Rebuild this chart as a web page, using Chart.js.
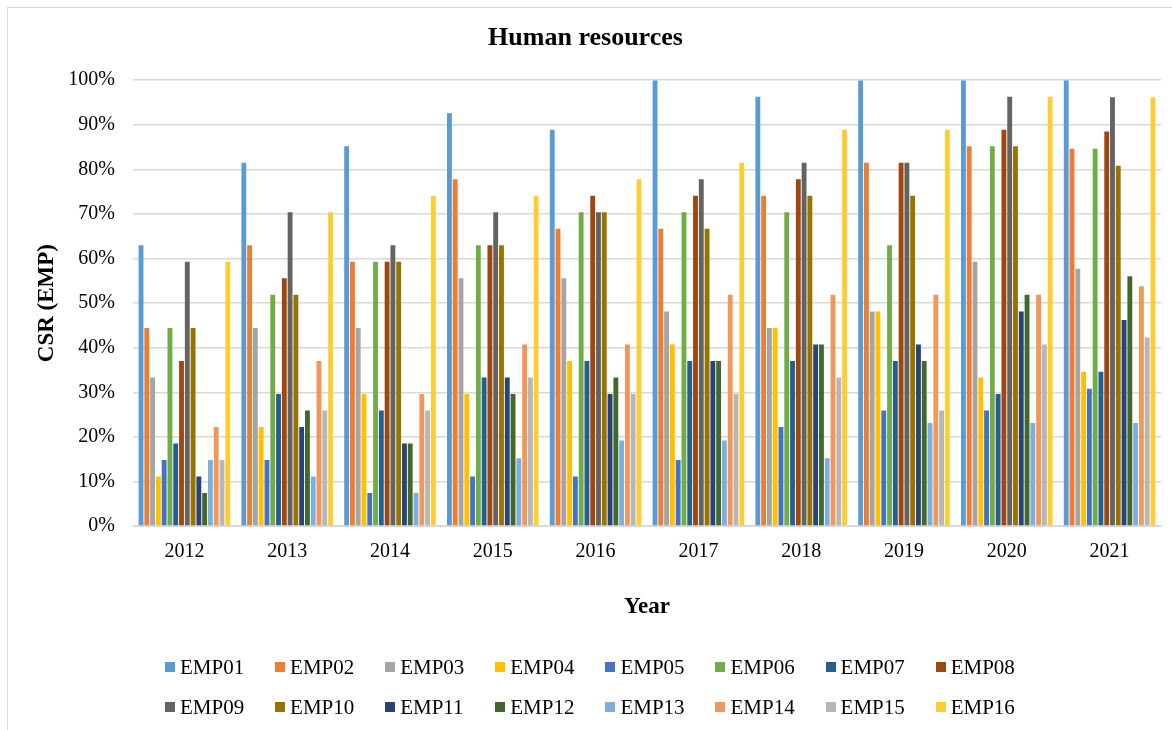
<!DOCTYPE html>
<html>
<head>
<meta charset="utf-8">
<title>Human resources</title>
<script src="https://cdn.jsdelivr.net/npm/chart.js@4.4.1/dist/chart.umd.min.js"></script>
<style>
    html, body {
        margin: 0;
        padding: 0;
        background: #fff;
        overflow: hidden;
    }
    .wrap {
        position: relative;
        width: 1172px;
        height: 730px;
    }
    .frame {
        position: absolute;
        left: 7px;
        top: 7px;
        width: 1200px;
        height: 760px;
        border: 1px solid #d9d9d9;
        box-sizing: border-box;
        pointer-events: none;
    }
    #legend {
        position: absolute;
        left: 165px;
        top: 647px;
        display: grid;
        grid-template-columns: repeat(8, 110.1px);
        grid-auto-rows: 40px;
        font-family: 'Liberation Serif', 'Times New Roman', serif;
        font-size: 21px;
        color: #000;
    }
    .legend-item {
        display: flex;
        align-items: center;
        white-space: nowrap;
    }
    .legend-box {
        display: inline-block;
        width: 10px;
        height: 10px;
        margin-right: 5px;
    }
</style>
</head>
<body>
<div class="wrap">
    <canvas id="hrChart" width="1172" height="730"></canvas>
    <div class="frame"></div>
    <div id="legend"></div>
</div>
<script>
// ═══════════════════════════════════════════════════════════════
// Data (share of CSR items disclosed, %)
// ═══════════════════════════════════════════════════════════════

const years = ['2012', '2013', '2014', '2015', '2016', '2017', '2018', '2019', '2020', '2021'];

const emp01 = [63.0, 81.5, 85.2, 92.6, 88.9, 100, 96.3, 100, 100, 100];
const emp02 = [44.4, 63.0, 59.3, 77.8, 66.7, 66.7, 74.1, 81.5, 85.2, 84.6];
const emp03 = [33.3, 44.4, 44.4, 55.6, 55.6, 48.1, 44.4, 48.1, 59.3, 57.7];
const emp04 = [11.1, 22.2, 29.6, 29.6, 37.0, 40.7, 44.4, 48.1, 33.3, 34.6];
const emp05 = [14.8, 14.8, 7.4, 11.1, 11.1, 14.8, 22.2, 25.9, 25.9, 30.8];
const emp06 = [44.4, 51.9, 59.3, 63.0, 70.4, 70.4, 70.4, 63.0, 85.2, 84.6];
const emp07 = [18.5, 29.6, 25.9, 33.3, 37.0, 37.0, 37.0, 37.0, 29.6, 34.6];
const emp08 = [37.0, 55.6, 59.3, 63.0, 74.1, 74.1, 77.8, 81.5, 88.9, 88.5];
const emp09 = [59.3, 70.4, 63.0, 70.4, 70.4, 77.8, 81.5, 81.5, 96.3, 96.2];
const emp10 = [44.4, 51.9, 59.3, 63.0, 70.4, 66.7, 74.1, 74.1, 85.2, 80.8];
const emp11 = [11.1, 22.2, 18.5, 33.3, 29.6, 37.0, 40.7, 40.7, 48.1, 46.2];
const emp12 = [7.4, 25.9, 18.5, 29.6, 33.3, 37.0, 40.7, 37.0, 51.9, 56.0];
const emp13 = [14.8, 11.1, 7.4, 15.2, 19.2, 19.2, 15.2, 23.1, 23.1, 23.1];
const emp14 = [22.2, 37.0, 29.6, 40.7, 40.7, 51.9, 51.9, 51.9, 51.9, 53.8];
const emp15 = [14.8, 25.9, 25.9, 33.3, 29.6, 29.6, 33.3, 25.9, 40.7, 42.3];
const emp16 = [59.3, 70.4, 74.1, 74.1, 77.8, 81.5, 88.9, 88.9, 96.3, 96.2];

const seriesNames = ['EMP01', 'EMP02', 'EMP03', 'EMP04', 'EMP05', 'EMP06', 'EMP07', 'EMP08',
                     'EMP09', 'EMP10', 'EMP11', 'EMP12', 'EMP13', 'EMP14', 'EMP15', 'EMP16'];
const seriesValues = [emp01, emp02, emp03, emp04, emp05, emp06, emp07, emp08,
                      emp09, emp10, emp11, emp12, emp13, emp14, emp15, emp16];

const yTicks = [0, 10, 20, 30, 40, 50, 60, 70, 80, 90, 100];

// Office palette, two passes (second one darker / lighter)
const SERIES_COLORS = [
    '#5B9BD5', '#ED7D31', '#A5A5A5', '#FFC000', '#4472C4', '#70AD47', '#255E91', '#9E480E',
    '#636363', '#997300', '#264478', '#43682B', '#7CAFDD', '#F1975A', '#B7B7B7', '#FFCD33'
];

const SERIF = "'Liberation Serif', 'Times New Roman', serif";

// ═══════════════════════════════════════════════════════════════
// Chart
// ═══════════════════════════════════════════════════════════════

const datasets = seriesNames.map((name, i) => ({
    label: name,
    data: seriesValues[i],
    backgroundColor: SERIES_COLORS[i],
    borderWidth: 0,
    barPercentage: 0.84,
    categoryPercentage: 0.9
}));

const hrChart = new Chart(document.getElementById('hrChart'), {
    type: 'bar',
    data: {
        labels: years,
        datasets: datasets
    },
    options: {
        responsive: false,
        animation: false,
        layout: {
            padding: { left: 10, right: 11, top: 0, bottom: 109 }
        },
        plugins: {
            legend: { display: false },
            tooltip: { enabled: false },
            title: {
                display: true,
                text: 'Human resources',
                color: '#000',
                font: { family: SERIF, size: 26, weight: 'bold' },
                padding: { top: 23, bottom: 26 }
            }
        },
        scales: {
            x: {
                grid: { display: false },
                border: { display: true, color: '#d9d9d9', width: 1 },
                ticks: {
                    color: '#000',
                    font: { family: SERIF, size: 20 },
                    padding: 6
                },
                title: {
                    display: true,
                    text: 'Year',
                    color: '#000',
                    font: { family: SERIF, size: 23, weight: 'bold' },
                    padding: 0
                },
                afterFit: function(scale) {
                    scale.height = 95;
                }
            },
            y: {
                min: 0,
                max: 100,
                afterBuildTicks: function(scale) {
                    scale.ticks = yTicks.map(v => ({ value: v }));
                },
                grid: {
                    color: '#d9d9d9',
                    lineWidth: 1.5,
                    drawTicks: false
                },
                border: { display: false },
                ticks: {
                    color: '#000',
                    font: { family: SERIF, size: 20 },
                    padding: 18,
                    callback: function(value) {
                        return value + '%';
                    }
                },
                title: {
                    display: true,
                    text: 'CSR (EMP)',
                    color: '#000',
                    font: { family: SERIF, size: 23, weight: 'bold' },
                    padding: { top: 23, bottom: 0 }
                },
                afterFit: function(scale) {
                    scale.width = 123;
                }
            }
        }
    }
});

// ═══════════════════════════════════════════════════════════════
// Legend (HTML, two rows of eight)
// ═══════════════════════════════════════════════════════════════

function buildLegend(chart) {
    const legendEl = document.getElementById('legend');
    legendEl.innerHTML = chart.data.datasets.map(ds => `
        <div class="legend-item">
            <span class="legend-box" style="background:${ds.backgroundColor}"></span>
            <span>${ds.label}</span>
        </div>
    `).join('');
}

buildLegend(hrChart);
</script>
</body>
</html>
